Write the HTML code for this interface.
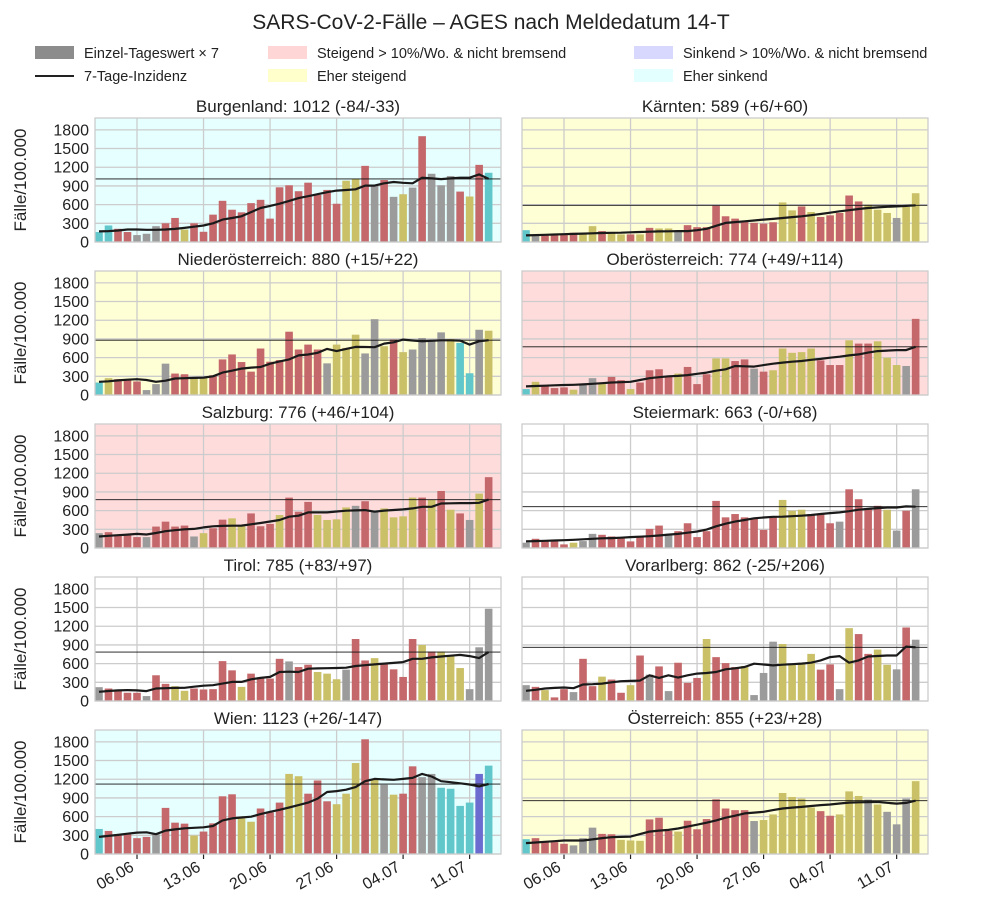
<!DOCTYPE html>
<html><head><meta charset="utf-8"><style>
body{margin:0;background:#fff;}
svg{display:block;font-family:"Liberation Sans",sans-serif;}
</style></head><body>
<svg id="fig" width="982" height="920" viewBox="0 0 982 920">
<text x="491" y="29" text-anchor="middle" font-size="21" fill="#222">SARS-CoV-2-Fälle – AGES nach Meldedatum 14-T</text>
<g font-size="14.5" fill="#222">
<g><rect x="35" y="46" width="39" height="13" fill="#8c8c8c"/><text x="84" y="58">Einzel-Tageswert × 7</text></g>
<g><line x1="35" y1="76" x2="74" y2="76" stroke="#222" stroke-width="2"/><text x="84" y="81">7-Tage-Inzidenz</text></g>
<g><rect x="268" y="46" width="39" height="13" fill="#ffd6d6"/><text x="317" y="58">Steigend &gt; 10%/Wo. &amp; nicht bremsend</text></g>
<g><rect x="268" y="69" width="39" height="13" fill="#ffffcc"/><text x="317" y="81">Eher steigend</text></g>
<g><rect x="634" y="46" width="39" height="13" fill="#d8d8ff"/><text x="683" y="58">Sinkend &gt; 10%/Wo. &amp; nicht bremsend</text></g>
<g><rect x="634" y="69" width="39" height="13" fill="#e4ffff"/><text x="683" y="81">Eher sinkend</text></g>
</g>
</svg>
<script>
const regions = ["Burgenland","Kärnten","Niederösterreich","Oberösterreich","Salzburg","Steiermark","Tirol","Vorarlberg","Wien","Österreich"];
const titleDeltas = ["(-84/-33)","(+6/+60)","(+15/+22)","(+49/+114)","(+46/+104)","(-0/+68)","(+83/+97)","(-25/+206)","(+26/-147)","(+23/+28)"];
const trends = ["sinkend","steigend","steigend","stark","stark","none","none","none","sinkend","steigend"];
const dateLabels = ["06.06","13.06","20.06","27.06","04.07","11.07"];
const dateTickIdx = [4,11,18,25,32,39];
const yTicks = [0,300,600,900,1200,1500,1800];
const barsBgld = [160,265,212,160,111,132,254,300,386,200,300,164,439,661,518,476,624,677,375,878,910,815,952,756,836,614,984,1016,1222,915,995,725,767,873,1698,1095,910,1058,809,730,1238,1111];
const barsKtn = [190,95,122,122,122,148,122,254,175,138,122,122,122,227,217,217,175,270,238,238,582,413,375,333,307,296,317,635,508,571,481,402,428,466,746,651,598,518,466,386,561,783];
const barsNoe = [200,270,254,238,217,79,175,503,344,333,270,280,317,571,651,529,375,746,534,561,1016,730,809,730,508,809,756,968,667,1217,783,889,688,730,915,889,1005,899,836,349,1047,1032];
const barsOoe = [95,212,148,111,122,85,175,270,200,291,238,95,200,397,413,291,344,450,175,333,587,587,545,571,423,375,397,746,677,688,746,555,481,481,878,825,825,862,598,481,466,1222];
const barsSbg = [238,254,200,200,175,175,344,423,344,360,185,238,317,455,476,349,555,349,386,529,809,582,740,529,450,460,651,677,751,582,635,492,508,809,809,772,915,614,555,450,873,1137];
const barsStmk = [85,148,111,122,58,85,111,227,212,185,159,106,175,307,360,227,270,397,175,270,756,492,545,492,466,291,492,772,598,614,545,545,397,423,942,783,640,677,614,280,598,942];
const barsTirol = [222,200,175,132,132,79,413,275,238,164,200,185,190,640,492,227,439,360,360,677,635,545,582,466,439,349,503,995,651,688,608,508,386,995,899,794,794,730,529,190,862,1481];
const barsVbg = [254,227,175,58,190,143,677,238,391,344,132,254,730,423,555,159,614,291,370,995,704,608,545,561,95,450,952,915,598,614,756,503,587,190,1169,1074,756,825,582,508,1180,984];
const barsWien = [402,370,317,317,254,275,317,740,503,487,296,360,492,926,958,571,518,730,667,825,1285,1248,968,1180,846,799,968,1460,1841,1190,1111,952,968,1407,1233,1285,1063,1047,772,825,1285,1418];
const barsAut = [238,254,190,190,164,138,254,423,323,317,227,217,212,555,582,370,360,534,397,561,878,730,704,704,529,545,635,979,915,889,746,688,614,635,1005,931,873,794,677,476,889,1169];
const lineBgld = [170,175,185,200,200,195,195,200,210,227,245,265,300,360,385,413,480,545,580,614,660,704,735,767,800,825,835,846,905,905,942,963,950,942,1032,1020,1010,1020,1032,1032,1085,1012];
const lineKtn = [106,110,115,120,125,130,135,140,145,148,150,155,160,165,170,172,175,175,190,212,260,307,320,333,345,360,370,385,400,413,430,450,470,492,510,530,545,555,565,571,580,589];
const lineNoe = [212,220,235,245,254,240,212,230,265,270,275,280,300,360,390,423,440,450,503,540,571,635,650,677,740,704,740,772,770,767,825,846,889,875,862,870,878,878,873,809,862,880];
const lineOoe = [138,145,150,155,160,164,170,180,190,200,205,212,240,270,285,300,307,320,340,360,390,413,466,460,455,480,503,520,535,545,565,580,598,615,635,651,680,704,712,720,720,774];
const lineSbg = [185,195,205,215,227,217,240,270,285,300,307,330,349,355,358,360,380,402,425,450,503,518,571,571,571,585,598,603,608,582,600,610,619,635,661,661,714,717,720,720,725,776];
const lineStmk = [106,110,115,120,125,132,140,148,155,159,165,175,182,190,200,215,227,245,265,296,349,390,423,450,476,490,500,503,510,518,530,545,560,571,590,614,628,640,650,650,667,663];
const lineTirol = [148,160,170,175,170,159,200,205,210,212,230,245,254,280,307,307,349,370,386,466,470,466,518,523,527,529,534,561,575,587,600,612,624,677,677,700,714,727,740,720,688,785];
const lineVbg = [164,180,200,210,217,205,265,270,280,300,317,323,328,413,370,413,375,413,439,450,466,508,525,545,598,585,571,582,590,600,614,651,704,720,614,651,714,722,730,730,873,862];
const lineWien = [275,290,307,325,344,349,317,375,395,413,420,428,450,540,571,585,598,640,677,710,746,785,825,889,995,1010,1032,1074,1169,1206,1198,1190,1205,1222,1285,1243,1169,1153,1135,1116,1085,1123];
const lineAut = [175,185,195,205,217,217,217,235,255,270,275,280,320,360,375,386,410,439,470,503,540,582,615,651,665,677,705,730,745,756,770,785,794,810,825,830,833,836,822,809,820,855];
const colorsBgld = "ttrrgggrryrrrrrrrrrrrrrrrryyrgrgygrgggryrt";
const colorsKtn = "tgrrrryyryyryryygrrrrrrrrrryyryrrrrryyygyy";
const colorsNoe = "tyrrrgggrryyrrrrrrrrrrrrgyyyggyryggggyttgy";
const colorsOoe = "tyrrryggyrryrrrryrrryyrrgryyyyyrrryrryyygr";
const colorsSbg = "grrrrgrrrrgyrryyrrryrrryyyygrgyyyyryryrgyr";
const colorsStmk = "tgrrrryggrrrrrrrgrrrrrrrrrrryyyrrrgrrrrygrg".slice(1);
const colorsTirol = "grrrrgrryyrrrrryrrrrgrryyygrryrrrryryyyggg";
const colorsVbg = "gryrrgrryrryrgrgrrryrrrygggyyyyrrgyrryygrg";
const colorsWien = "trrrrrgrrryrrrryyrrryyrrryyyrygyrrggttttbt";
const colorsAut = "trrrrgggrryyyrrryrrrrrrrgyyyyyyrryyygygggy";

const allBars=[barsBgld,barsKtn,barsNoe,barsOoe,barsSbg,barsStmk,barsTirol,barsVbg,barsWien,barsAut];
const allLines=[lineBgld,lineKtn,lineNoe,lineOoe,lineSbg,lineStmk,lineTirol,lineVbg,lineWien,lineAut];
const allColors=[colorsBgld,colorsKtn,colorsNoe,colorsOoe,colorsSbg,colorsStmk,colorsTirol,colorsVbg,colorsWien,colorsAut];
const BG={sinkend:"#e6ffff",steigend:"#ffffd6",stark:"#ffdcdc",none:"#ffffff"};
const BC={r:"#c4686b",y:"#c9c068",t:"#62c7ca",g:"#9b9b9b",b:"#6c6cd0"};
const NS="http://www.w3.org/2000/svg";
const svg=document.getElementById('fig');
function mk(tag,attrs,parent){const e=document.createElementNS(NS,tag);for(const k in attrs)e.setAttribute(k,attrs[k]);(parent||svg).appendChild(e);return e;}
const colX=[95,522], W=406, H=124, rowY=[118,271,424,577,730];
const XMIN=-0.42, XMAX=42.3, YMAX=1990;
regions.forEach((name,p)=>{
  const col=p%2,row=Math.floor(p/2);
  const x0=colX[col],y0=rowY[row];
  const xs=i=>x0+(i-XMIN)/(XMAX-XMIN)*W;
  const ys=v=>y0+H-v/YMAX*H;
  const g=mk('g',{});
  
  
  const bg=mk('rect',{x:x0,y:y0,width:W,height:H,fill:BG[trends[p]]},g);
  
  
  yTicks.forEach(t=>{
    const l=mk('line',{x1:x0,x2:x0+W,y1:ys(t),y2:ys(t),stroke:"#cccccc","stroke-width":1.3},g);
    
    
    if(col===0){
      const tx=mk('text',{x:x0-6,y:ys(t)+5.5,"text-anchor":"end","font-size":16,fill:"#222"},g);
      tx.textContent=t;
      
      
    }
  });
  dateTickIdx.forEach((d,k)=>{
    const l=mk('line',{x1:xs(d),x2:xs(d),y1:y0,y2:y0+H,stroke:"#cccccc","stroke-width":1.3},g);
    
    
    if(row===4){
      const tk=mk('line',{x1:xs(d),x2:xs(d),y1:y0+H,y2:y0+H+5,stroke:"#222","stroke-width":1.2},g);
      
      
      const ax=xs(d)-2, ay=y0+H+16;
      const tx=mk('text',{x:ax,y:ay,"text-anchor":"end","font-size":16,fill:"#222",transform:`rotate(-30 ${ax} ${ay})`},g);
      tx.textContent=dateLabels[k];
      
      
    }
  });
  const bars=allBars[p],cols=allColors[p],line=allLines[p];
  bars.forEach((v,i)=>{
    const b=mk('rect',{x:xs(i)-3.8,y:ys(v),width:7.6,height:ys(0)-ys(v),fill:BC[cols[i]]||BC.r},g);
    
    
  });
  const cur=line[line.length-1];
  const hl=mk('line',{x1:x0,x2:x0+W,y1:ys(cur),y2:ys(cur),stroke:"#111","stroke-width":0.9},g);
  
  
  const pl=mk('polyline',{points:line.map((v,i)=>xs(i).toFixed(1)+","+ys(v).toFixed(1)).join(" "),fill:"none",stroke:"#1a1a1a","stroke-width":2.2,"stroke-linejoin":"round"},g);
  
  
  const fr=mk('rect',{x:x0,y:y0,width:W,height:H,fill:"none",stroke:"#cccccc","stroke-width":1.3},g);
  
  
  const tt=mk('text',{x:x0+W/2,y:y0-6,"text-anchor":"middle","font-size":17,fill:"#222"},g);
  tt.textContent=name+": "+cur+" "+titleDeltas[p];
  
  
  if(col===0){
    const cy=y0+H/2;
    const yl=mk('text',{x:26,y:cy,"text-anchor":"middle","font-size":17,fill:"#222",transform:`rotate(-90 26 ${cy})`},g);
    yl.textContent="Fälle/100.000";
    
    
  }
});
</script>
</body></html>
